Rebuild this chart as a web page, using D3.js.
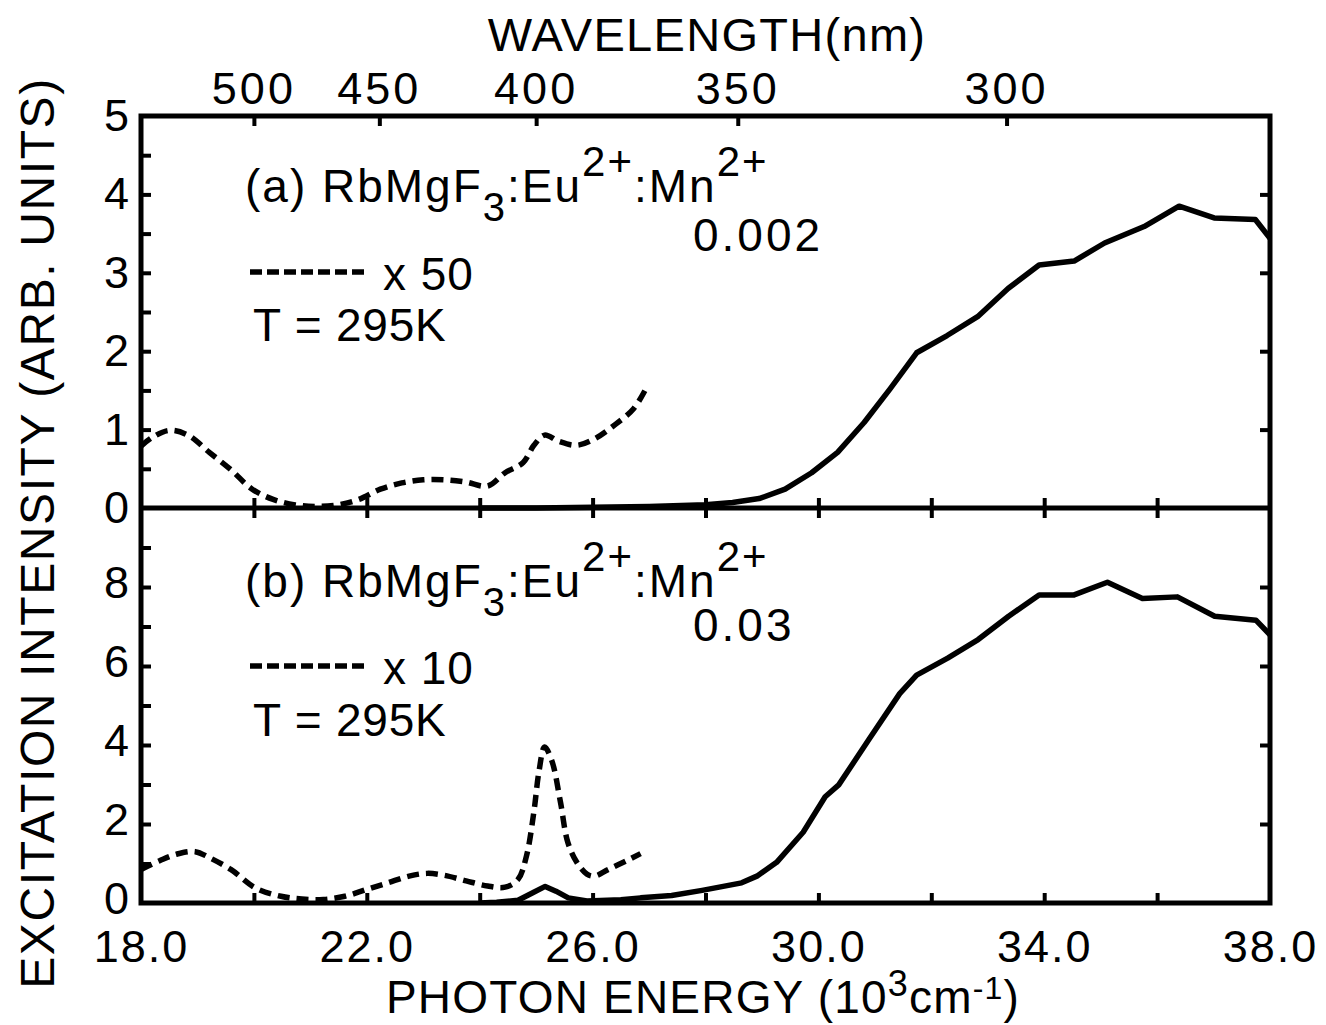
<!DOCTYPE html>
<html><head><meta charset="utf-8">
<script src="https://cdn.jsdelivr.net/npm/d3@7"></script>
<style>
body{margin:0;background:#fff;}
svg{display:block;}
text{font-family:"Liberation Sans",Arial,sans-serif;fill:#000;}
</style></head>
<body>
<svg id="c" width="1326" height="1025"></svg>
<script>
// ---- data (photon energy in 10^3 cm^-1, intensity arb. units) ----
const topSolid = [[24.0,0.0],[25.0,0.0],[26.0,0.01],[27.0,0.02],[28.0,0.04],[28.48,0.07],[28.95,0.12],[29.41,0.24],[29.88,0.45],[30.34,0.71],[30.81,1.09],[31.27,1.52],[31.74,1.98],[32.28,2.2],[32.82,2.44],[33.36,2.8],[33.91,3.1],[34.53,3.15],[35.07,3.38],[35.77,3.59],[36.39,3.85],[37.01,3.7],[37.74,3.68],[38.0,3.44]];
const topDashed = [[18.0,0.79],[18.2,0.9],[18.5,0.99],[18.83,0.93],[19.21,0.71],[19.59,0.49],[19.97,0.24],[20.34,0.11],[20.73,0.04],[21.1,0.02],[21.49,0.04],[21.86,0.11],[22.24,0.24],[22.62,0.32],[23.0,0.36],[23.38,0.36],[23.76,0.33],[24.14,0.28],[24.45,0.45],[24.77,0.58],[24.96,0.8],[25.15,0.93],[25.4,0.85],[25.72,0.8],[26.03,0.88],[26.41,1.07],[26.73,1.27],[26.95,1.53]];
const botSolid = [[24.0,0.0],[24.3,0.02],[24.68,0.07],[24.94,0.26],[25.16,0.42],[25.35,0.3],[25.57,0.13],[25.9,0.05],[26.5,0.08],[26.85,0.13],[27.4,0.19],[27.94,0.32],[28.64,0.51],[28.91,0.68],[29.26,1.03],[29.73,1.79],[30.12,2.69],[30.36,2.99],[30.9,4.15],[31.44,5.3],[31.74,5.77],[32.29,6.2],[32.83,6.67],[33.37,7.26],[33.91,7.8],[34.53,7.8],[35.12,8.12],[35.74,7.71],[36.36,7.75],[37.02,7.26],[37.75,7.16],[38.0,6.79]];
const botDashed = [[18.0,0.85],[18.33,1.07],[18.64,1.24],[18.96,1.3],[19.21,1.15],[19.59,0.85],[20.03,0.38],[20.48,0.17],[20.85,0.1],[21.23,0.09],[21.61,0.17],[21.99,0.34],[22.37,0.51],[22.75,0.68],[23.07,0.75],[23.38,0.7],[23.76,0.56],[24.14,0.43],[24.45,0.4],[24.68,0.6],[24.83,1.2],[24.96,2.31],[25.05,3.33],[25.15,3.95],[25.28,3.59],[25.43,2.56],[25.56,1.54],[25.72,1.03],[25.9,0.73],[26.03,0.68],[26.28,0.85],[26.6,1.07],[26.85,1.25]];
const energyLabels = [18,22,26,30,34,38];
const energyTicks = [20,22,24,26,28,30,32,34,36];
const wavelengthTicks = [500,450,400,350,300];
const topYLabels = [0,1,2,3,4,5];
const botYLabels = [0,2,4,6,8];

// ---- layout ----
const L=141, R=1270, T=116, M=508, B=903;
const svg = d3.select("#c");
const x = d3.scaleLinear().domain([18,38]).range([L,R]);
const yT = d3.scaleLinear().domain([0,5]).range([M,T]);
const yB = d3.scaleLinear().domain([0,10]).range([B,M]);
const SW = 5, TK = 10;

// frame
svg.append("rect").attr("x",L).attr("y",T).attr("width",R-L).attr("height",B-T)
  .attr("fill","none").attr("stroke","#000").attr("stroke-width",SW);
svg.append("line").attr("x1",L).attr("x2",R).attr("y1",M).attr("y2",M)
  .attr("stroke","#000").attr("stroke-width",SW);

function styleAxis(g){
  g.select(".domain").remove();
  g.selectAll(".tick line").attr("stroke","#000").attr("stroke-width",4);
  g.selectAll(".tick text").attr("font-size",45).attr("fill","#000").attr("letter-spacing",2)
   .attr("font-family","'Liberation Sans',Arial,sans-serif");
}

// bottom axis ticks (inward) + labels
svg.append("g").attr("transform",`translate(0,${B})`)
  .call(d3.axisBottom(x).tickValues(energyTicks).tickSize(-TK).tickFormat(""))
  .call(styleAxis);
svg.append("g").attr("transform",`translate(0,${B})`)
  .call(d3.axisBottom(x).tickValues(energyLabels).tickSize(0).tickPadding(27).tickFormat(d3.format(".1f")))
  .call(styleAxis);
// middle line ticks both directions
svg.append("g").attr("transform",`translate(0,${M-TK})`)
  .call(d3.axisBottom(x).tickValues(energyTicks).tickSize(2*TK).tickFormat(""))
  .call(styleAxis);
// top wavelength axis
const xw = d => x(1e4/d);
svg.append("g").attr("transform",`translate(0,${T})`)
  .call(d3.axisTop(x).tickValues(wavelengthTicks.map(w=>1e4/w)).tickSize(-TK).tickFormat(""))
  .call(styleAxis);
svg.selectAll(".wl").data(wavelengthTicks).join("text").attr("class","wl")
  .attr("x",d=>xw(d)).attr("y",104).attr("text-anchor","middle").attr("font-size",45)
  .attr("letter-spacing",3).text(d=>d);

// left axes
svg.append("g").attr("transform",`translate(${L},0)`)
  .call(d3.axisLeft(yT).tickValues(d3.range(0.5,5,0.5)).tickSize(-TK).tickFormat(""))
  .call(styleAxis);
svg.append("g").attr("transform",`translate(${L},0)`)
  .call(d3.axisLeft(yB).tickValues(d3.range(1,10,1)).tickSize(-TK).tickFormat(""))
  .call(styleAxis);
svg.append("g").attr("transform",`translate(${L},0)`)
  .call(d3.axisLeft(yT).tickValues(topYLabels).tickSize(0).tickPadding(10).tickFormat(d3.format("d")))
  .call(styleAxis);
svg.append("g").attr("transform",`translate(${L},-4)`)
  .call(d3.axisLeft(yB).tickValues(botYLabels).tickSize(0).tickPadding(10).tickFormat(d3.format("d")))
  .call(styleAxis);
// right axes
svg.append("g").attr("transform",`translate(${R},0)`)
  .call(d3.axisRight(yT).tickValues([1,2,3,4]).tickSize(-TK).tickFormat(""))
  .call(styleAxis);
svg.append("g").attr("transform",`translate(${R},0)`)
  .call(d3.axisRight(yB).tickValues([2,4,6,8]).tickSize(-TK).tickFormat(""))
  .call(styleAxis);

// curves
svg.append("clipPath").attr("id","pc").append("rect")
  .attr("x",L).attr("y",T).attr("width",R-L).attr("height",B-T);
function draw(data, ys, dashed){
  const line = d3.line().x(d=>x(d[0])).y(d=>ys(d[1]))
    .curve(dashed ? d3.curveCatmullRom.alpha(0.5) : d3.curveLinear);
  svg.append("path").datum(data).attr("d",line).attr("fill","none")
    .attr("stroke","#000").attr("stroke-width",5.5).attr("stroke-linejoin","round")
    .attr("stroke-dasharray",dashed?"12,7":null).attr("clip-path","url(#pc)");
}
draw(topSolid,yT,false);
draw(topDashed,yT,true);
draw(botSolid,yB,false);
draw(botDashed,yB,true);

// annotations
const FS = 46;
function formula(label, y0){
  const t = svg.append("text").attr("x",245).attr("y",y0).attr("font-size",FS).attr("letter-spacing",2);
  t.append("tspan").text(label+" RbMgF");
  t.append("tspan").attr("dy",19).attr("font-size",40).text("3");
  t.append("tspan").attr("dy",-19).text(":Eu");
  t.append("tspan").attr("dy",-26).attr("font-size",42).text("2+");
  t.append("tspan").attr("dy",26).text(":Mn");
  t.append("tspan").attr("dy",-26).attr("font-size",42).text("2+");
}
formula("(a)",202);
formula("(b)",597);
svg.append("text").attr("x",693).attr("y",251).attr("font-size",FS).attr("letter-spacing",3).text("0.002");
svg.append("text").attr("x",693).attr("y",641).attr("font-size",FS).attr("letter-spacing",3).text("0.03");
function legend(y0, mult){
  svg.append("line").attr("x1",250).attr("x2",366).attr("y1",y0).attr("y2",y0)
    .attr("stroke","#000").attr("stroke-width",5.5).attr("stroke-dasharray","12,5");
  svg.append("text").attr("x",383).attr("y",y0+18).attr("font-size",FS).attr("letter-spacing",1).text("x "+mult);
}
legend(272,50);
legend(666,10);
svg.append("text").attr("x",253).attr("y",341).attr("font-size",FS).attr("letter-spacing",0.8).text("T = 295K");
svg.append("text").attr("x",253).attr("y",736).attr("font-size",FS).attr("letter-spacing",0.8).text("T = 295K");

// axis titles
svg.append("text").attr("x",707).attr("y",51).attr("text-anchor","middle").attr("font-size",47)
  .attr("letter-spacing",1.3).text("WAVELENGTH(nm)");
svg.append("text").attr("transform","translate(54,533) rotate(-90)").attr("text-anchor","middle")
  .attr("font-size",48).attr("letter-spacing",1.6).text("EXCITATION INTENSITY (ARB. UNITS)");
const xl = svg.append("text").attr("x",703).attr("y",1013).attr("text-anchor","middle")
  .attr("font-size",46).attr("letter-spacing",1.2);
xl.append("tspan").text("PHOTON ENERGY (10");
xl.append("tspan").attr("dy",-17).attr("font-size",36).text("3");
xl.append("tspan").attr("dy",17).text("cm");
xl.append("tspan").attr("dy",-14).attr("font-size",32).text("-1");
xl.append("tspan").attr("dy",14).text(")");
</script>
</body></html>
